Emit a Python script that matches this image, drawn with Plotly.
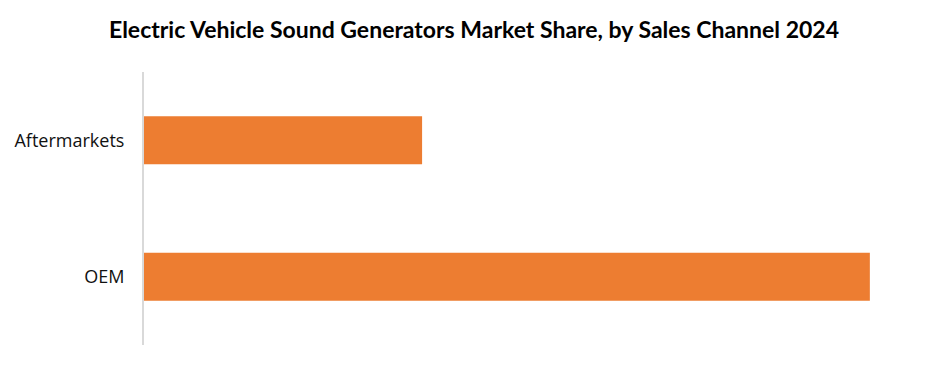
import plotly.graph_objects as go

categories = ["Aftermarkets", "OEM"]
values = [27.7, 72.3]

fig = go.Figure(go.Bar(
    x=values, y=categories, orientation="h",
    marker=dict(color="#ED7D31", line=dict(width=0)),
))
fig.update_layout(
    width=948, height=369,
    margin=dict(l=144, r=41, t=72, b=24),
    paper_bgcolor="white", plot_bgcolor="white",
    bargap=0.65,
    showlegend=False,
    title=dict(text="<b>Electric Vehicle Sound Generators Market Share, by Sales Channel 2024</b>",
               x=0.5, xanchor="center", y=1 - 30/369, yanchor="middle", yref="container",
               font=dict(family="Lato", size=23, color="black")),
)
fig.update_xaxes(range=[0, 76], visible=False, showgrid=False, zeroline=False)
fig.update_yaxes(categoryorder="array", categoryarray=["OEM", "Aftermarkets"],
                 showline=True, linecolor="#d9d9d9", linewidth=2, ticks="",
                 ticklabelstandoff=14, showgrid=False, zeroline=False,
                 tickfont=dict(family="Open Sans", size=18, color="#111"))
fig.write_html("out.html")
